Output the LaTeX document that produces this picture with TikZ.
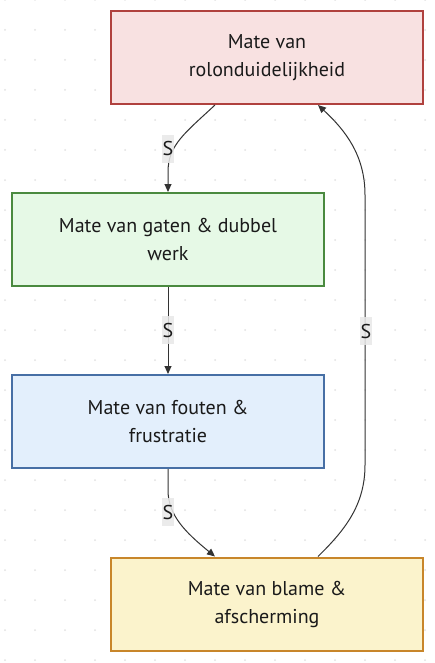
\documentclass[tikz,border=0pt]{standalone}
\usepackage{fontspec}
\setmainfont{PT Sans}
\usetikzlibrary{arrows.meta,calc}
\definecolor{redfill}{HTML}{F8E1E1}
\definecolor{reddraw}{HTML}{B0413E}
\definecolor{greenfill}{HTML}{E6F9E6}
\definecolor{greendraw}{HTML}{4A8A3F}
\definecolor{bluefill}{HTML}{E3EFFC}
\definecolor{bluedraw}{HTML}{476FA5}
\definecolor{yellowfill}{HTML}{FBF3CC}
\definecolor{yellowdraw}{HTML}{C8862A}
\definecolor{edgecol}{HTML}{333333}
\definecolor{dotcol}{HTML}{E2E2E2}
\definecolor{lblfill}{HTML}{E8E8E8}
\definecolor{txtcol}{HTML}{1A1A1A}
\tikzset{
  box/.style={rectangle, line width=2pt, minimum width=312pt, minimum height=93pt,
    align=center, font=\fontsize{20pt}{28pt}\selectfont, text=txtcol},
  link/.style={draw=edgecol, line width=1pt, -{Triangle[length=8pt,width=7pt]}},
  lbl/.style={fill=lblfill, fill opacity=0.85, text opacity=1, inner xsep=1pt, inner ysep=0pt,
    minimum height=28pt, font=\fontsize{20pt}{22pt}\selectfont, text=txtcol}
}
\begin{document}
\begin{tikzpicture}[x=1pt,y=-1pt]
\useasboundingbox (0,0) rectangle (434,663);
\fill[white] (0,0) rectangle (434,663);
\foreach \i in {0,...,14}{
  \foreach \j in {0,...,22}{
    \fill[dotcol] ({5+30*\i},{30*\j}) circle (1pt);
  }
}
\node[box, fill=redfill, draw=reddraw] (r) at (267,57.5) {Mate van\\rolonduidelijkheid};
\node[box, fill=greenfill, draw=greendraw] (g) at (168,239.5) {Mate van gaten \& dubbel\\werk};
\node[box, fill=bluefill, draw=bluedraw] (b) at (168,421.5) {Mate van fouten \&\\frustratie};
\node[box, fill=yellowfill, draw=yellowdraw] (y) at (267,604) {Mate van blame \&\\afscherming};

\coordinate (r1) at ($(r.south)+(-52,0)$);
\coordinate (r2) at ($(r.south)+(51,0)$);
\coordinate (y1) at ($(y.north)+(-52,0)$);
\coordinate (y2) at ($(y.north)+(51,0)$);

\draw[link] (r1) .. controls (185,133) and (168,145) .. (168,172) -- (g.north);
\draw[link] (g.south) -- (b.north);
\draw[link] (b.south) -- (168,490) .. controls (168,515) and (185,532) .. (y1);
\draw[link] (y2) .. controls (345,530) and (365,505) .. (365,465) -- (365,195) .. controls (365,155) and (345,130) .. (r2);

\node[lbl] (l1) at (168,149) {S};
\node[lbl] (l2) at (168,330) {S};
\node[lbl] (l3) at (168,512) {S};
\node[lbl] (l4) at (366,331) {S};
\end{tikzpicture}
\end{document}
